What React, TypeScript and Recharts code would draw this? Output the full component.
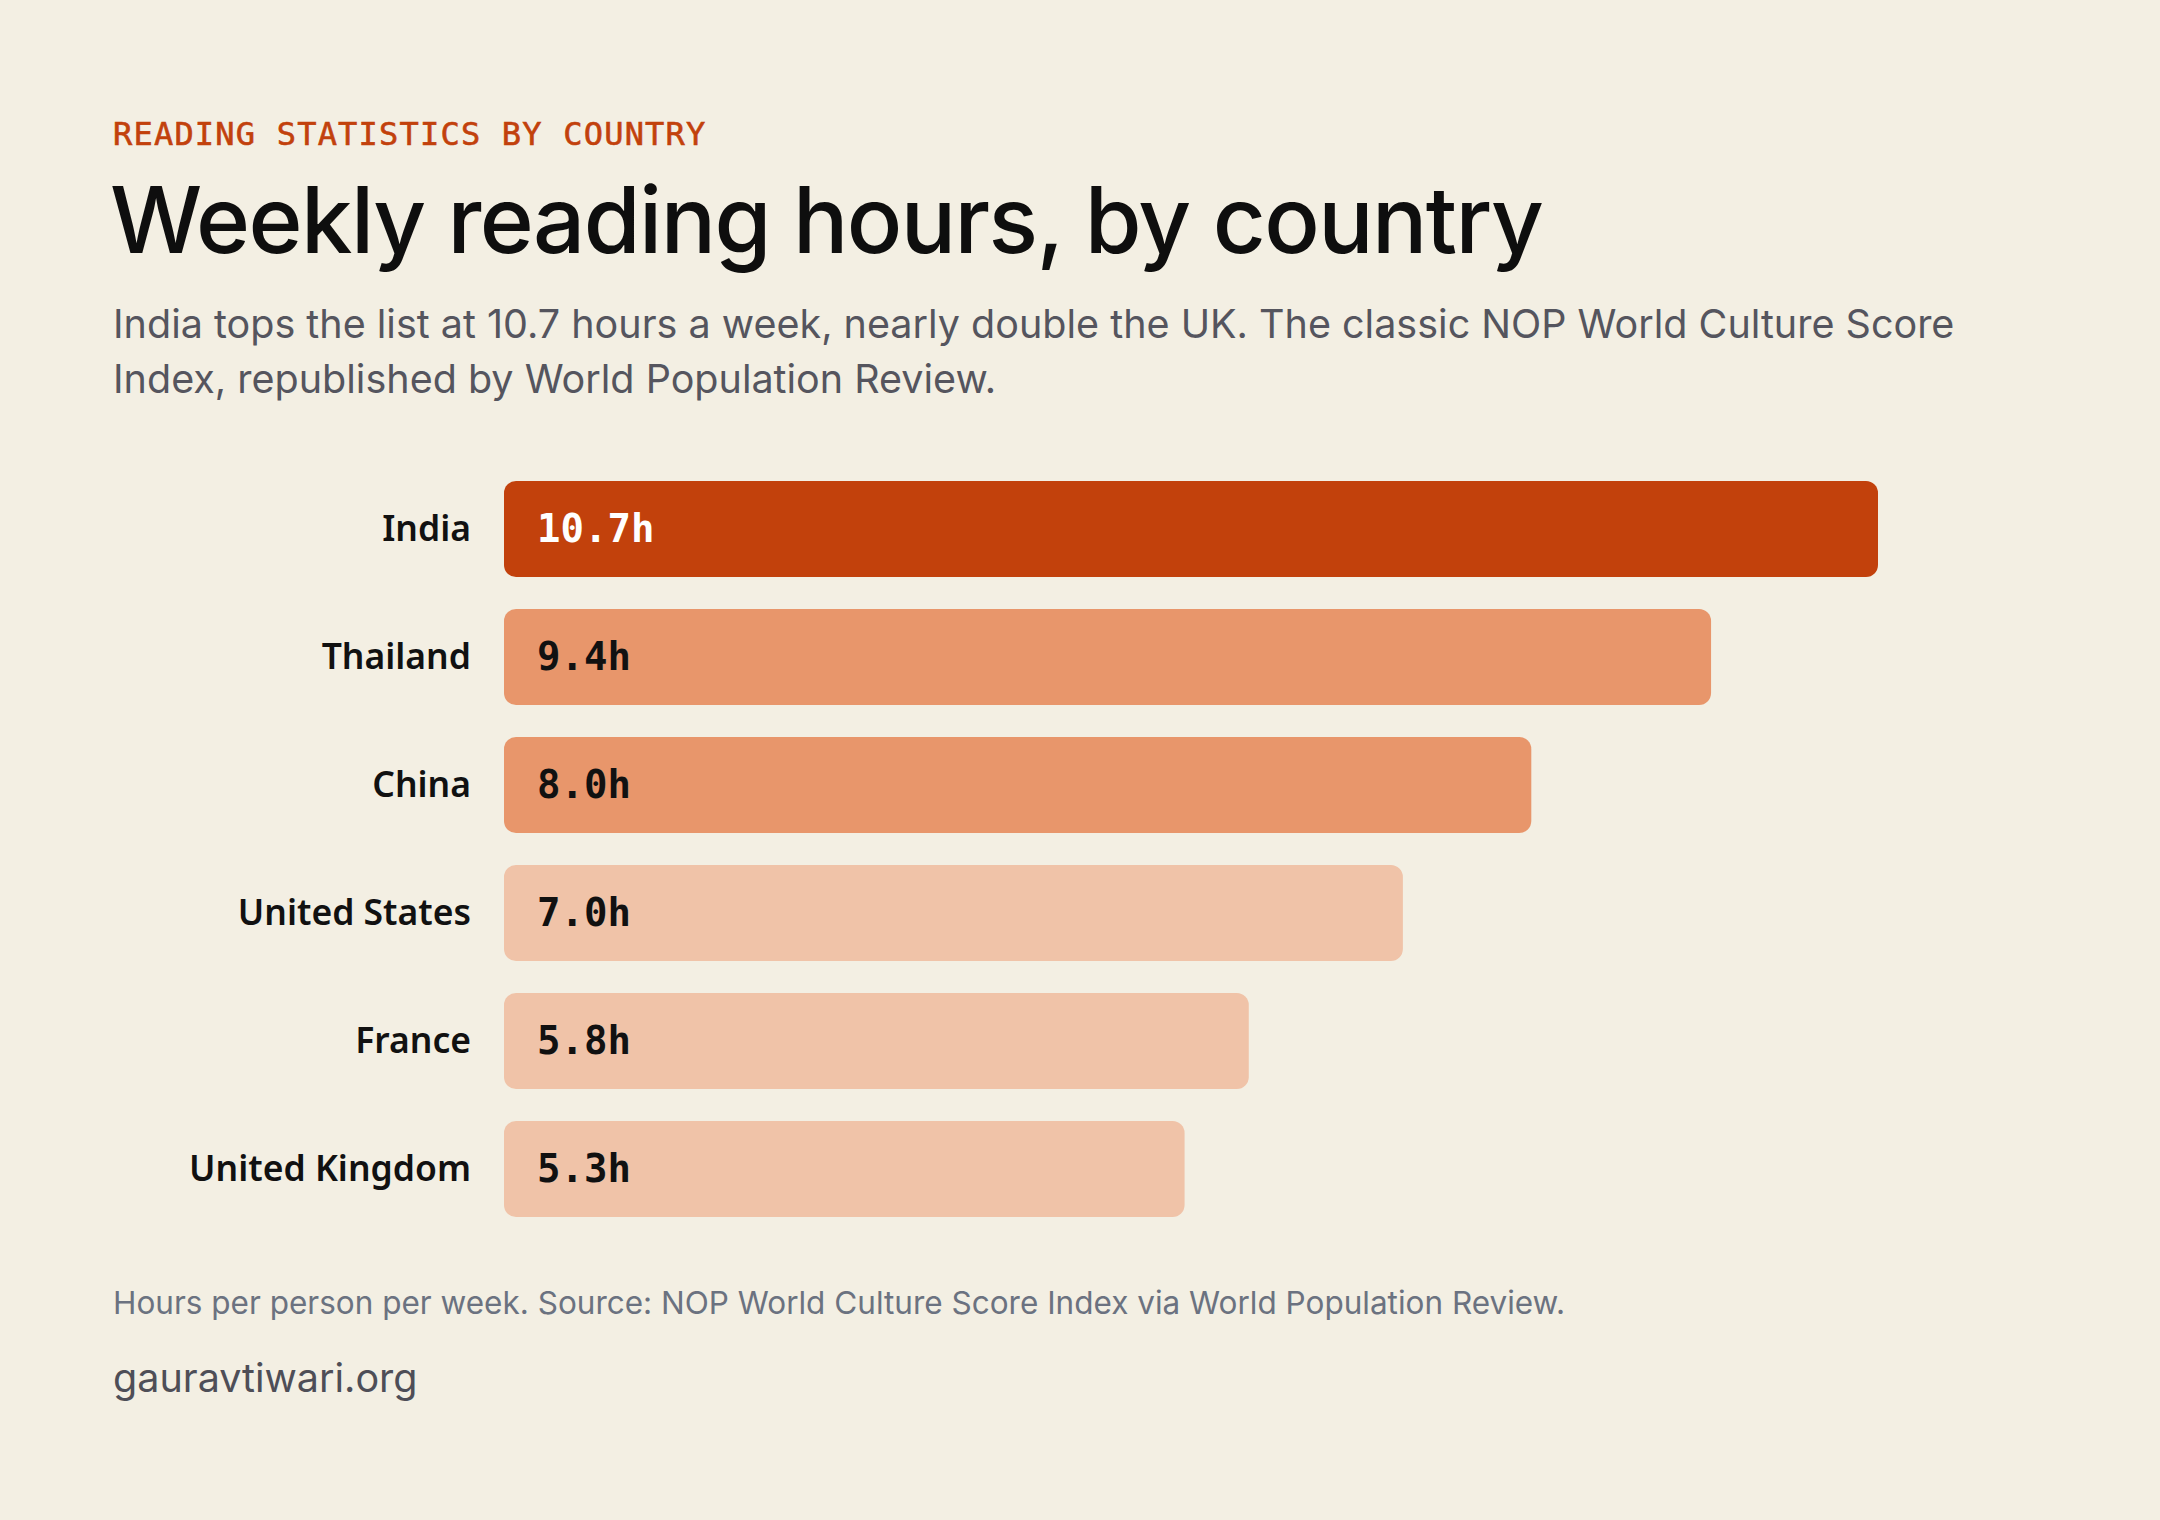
import { Bar, BarChart, Cell, LabelList, XAxis, YAxis } from "recharts"

const countries = ["India", "Thailand", "China", "United States", "France", "United Kingdom"]
const hours = [10.7, 9.4, 8.0, 7.0, 5.8, 5.3]
const tiers = ["top", "mid", "mid", "low", "low", "low"]

const tierColor: Record<string, string> = {
    top: "#C2410C",
    mid: "#E8966B",
    low: "#F0C3A8",
}

const data = countries.map((country, i) => ({
    country,
    hours: hours[i],
    tier: tiers[i],
}))

const bg = "#F3EFE3"

function CountryTick(props: any) {
    const { x, y, payload } = props
    return (
        <text
            x={x}
            y={y}
            dy="0.35em"
            textAnchor="end"
            fill="#111111"
            style={{ fontFamily: "'Noto Sans', sans-serif", fontWeight: 600, fontSize: 35.5 }}
        >
            {payload.value}
        </text>
    )
}

function ValueLabel(props: any) {
    const { x, y, height, value, index } = props
    const isTop = tiers[index] === "top"
    return (
        <text
            x={x + 33}
            y={y + height / 2}
            dy="0.33em"
            fill={isTop ? "#FFFFFF" : "#111111"}
            style={{ fontFamily: "'DejaVu Sans Mono', monospace", fontWeight: 700, fontSize: 39 }}
        >
            {value.toFixed(1)}h
        </text>
    )
}

export default function App() {
    return (
        <div
            style={{
                position: "absolute",
                left: 0,
                top: 0,
                width: 2160,
                height: 1520,
                background: bg,
                overflow: "hidden",
            }}
        >
            <div
                style={{
                    position: "absolute",
                    left: 113,
                    top: 118,
                    fontFamily: "'DejaVu Sans Mono', monospace",
                    fontSize: 32,
                    lineHeight: "32px",
                    letterSpacing: 1.2,
                    color: "#C2410C",
                    whiteSpace: "nowrap",
                    WebkitTextStroke: "0.6px #C2410C",
                }}
            >
                READING STATISTICS BY COUNTRY
            </div>
            <div
                style={{
                    position: "absolute",
                    left: 110,
                    top: 174,
                    fontFamily: "Inter, sans-serif",
                    fontWeight: 500,
                    fontSize: 92,
                    lineHeight: "92px",
                    letterSpacing: "-0.017em",
                    color: "#0E0E0E",
                    whiteSpace: "nowrap",
                }}
            >
                Weekly reading hours, by country
            </div>
            <div
                style={{
                    position: "absolute",
                    left: 113,
                    top: 297,
                    fontFamily: "Inter, sans-serif",
                    fontSize: 39.5,
                    lineHeight: "55px",
                    color: "#55555E",
                    whiteSpace: "nowrap",
                }}
            >
                India tops the list at 10.7 hours a week, nearly double the UK. The classic NOP World Culture Score
                <br />
                Index, republished by World Population Review.
            </div>

            <div style={{ position: "absolute", left: 0, top: 465 }}>
                <BarChart
                    width={2160}
                    height={768}
                    data={data}
                    layout="vertical"
                    margin={{ top: 0, right: 282, bottom: 0, left: 0 }}
                    barCategoryGap={32}
                >
                    <XAxis type="number" domain={[0, 10.7]} hide />
                    <YAxis
                        type="category"
                        dataKey="country"
                        width={504}
                        axisLine={false}
                        tickLine={false}
                        tickSize={0}
                        tickMargin={33}
                        tick={<CountryTick />}
                        interval={0}
                    />
                    <Bar dataKey="hours" barSize={96} radius={12} isAnimationActive={false}>
                        {data.map((d) => (
                            <Cell key={d.country} fill={tierColor[d.tier]} />
                        ))}
                        <LabelList dataKey="hours" content={<ValueLabel />} />
                    </Bar>
                </BarChart>
            </div>

            <div
                style={{
                    position: "absolute",
                    left: 113,
                    top: 1287,
                    fontFamily: "Inter, sans-serif",
                    fontSize: 31.5,
                    lineHeight: "31.5px",
                    color: "#6B7280",
                    whiteSpace: "nowrap",
                }}
            >
                Hours per person per week. Source: NOP World Culture Score Index via World Population Review.
            </div>
            <div
                style={{
                    position: "absolute",
                    left: 113,
                    top: 1359,
                    fontFamily: "Inter, sans-serif",
                    fontSize: 39.5,
                    lineHeight: "39.5px",
                    color: "#4E4E57",
                    whiteSpace: "nowrap",
                }}
            >
                gauravtiwari.org
            </div>
        </div>
    )
}
